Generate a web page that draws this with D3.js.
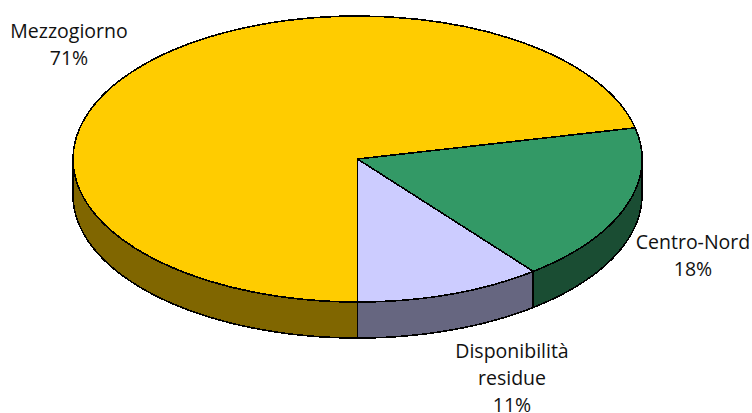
<!DOCTYPE html>
<html><head><meta charset="utf-8"><script src="https://cdn.jsdelivr.net/npm/d3@7"></script>
<style>html,body{margin:0;background:#fff;overflow:hidden}svg{display:block}text{font-family:"Open Sans",sans-serif;font-size:19.5px;fill:#111}path{shape-rendering:crispEdges}</style></head><body>
<svg width="752" height="413"></svg>
<script>
const categories=["Centro-Nord","Disponibilità residue","Mezzogiorno"];
const values=[17.9,10.6,71.5];
const labels=[["Centro-Nord","18%"],["Disponibilità","residue","11%"],["Mezzogiorno","71%"]];
const topColors=["#339966","#ccccff","#ffcc00"];
const sideColors=["#1a4d33","#666680","#806600"];
const labelAnchors=[[693,249],[512,358],[69,38]];
const svg=d3.select("svg");
const cx=357.5,cy=159,rx=284.5,ry=143,depth=36;
const start=Math.PI-(values[0]+values[1])/100*2*Math.PI;
const pie=d3.pie().sort(null).startAngle(start).endAngle(start+2*Math.PI).value(d=>d);
const arcs=pie(values);
const unit=d3.arc().innerRadius(0).outerRadius(1);
const px=a=>cx+rx*Math.sin(a), py=a=>cy-ry*Math.cos(a);
const lo=Math.PI/2,hi=Math.PI*3/2;
const sw=1.6;
arcs.forEach((d,i)=>{
  const A=Math.max(d.startAngle,lo),B=Math.min(d.endAngle,hi);
  if(A>=B)return;
  const steps=d3.range(0,121).map(k=>A+(B-A)*k/120);
  const top=steps.map(t=>[px(t),py(t)]);
  const bot=steps.slice().reverse().map(t=>[px(t),py(t)+depth]);
  svg.append("path").attr("d",d3.line()(top.concat(bot))+"Z").attr("fill",sideColors[i]).attr("stroke","#000").attr("stroke-width",sw).attr("stroke-linejoin","round");
});
arcs.forEach((d,i)=>{
  svg.append("g").attr("transform",`translate(${cx},${cy}) scale(${rx},${ry})`)
    .append("path").attr("d",unit(d)).attr("fill",topColors[i]).attr("stroke","#000").attr("stroke-width",sw).attr("stroke-linejoin","round").attr("vector-effect","non-scaling-stroke");
});
labels.forEach((ls,i)=>{
  const t=svg.append("text").attr("text-anchor","middle");
  ls.forEach((l,j)=>t.append("tspan").attr("x",labelAnchors[i][0]).attr("y",labelAnchors[i][1]+j*27).text(l));
});
</script></body></html>
